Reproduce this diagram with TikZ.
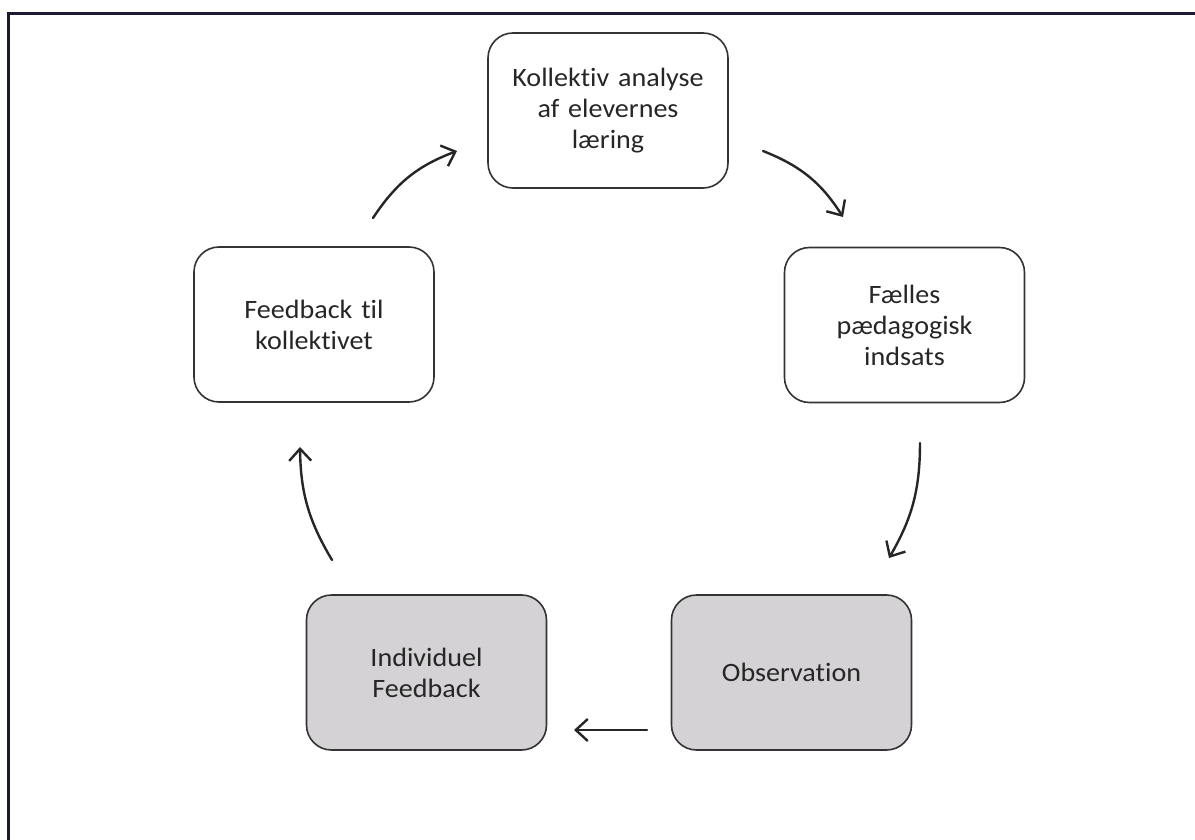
\documentclass[tikz,border=0pt]{standalone}
\usepackage{fontspec}
\setmainfont{Carlito}[FakeStretch=1.06, RawFeature={-liga;-clig;-dlig}]
\usetikzlibrary{arrows.meta}
\definecolor{framecol}{HTML}{1C1933}
\definecolor{boxline}{HTML}{333333}
\definecolor{boxgray}{HTML}{D4D2D4}
\definecolor{txt}{HTML}{262626}
\tikzset{
  stage/.style={draw=boxline, line width=1.6pt, rounded corners=25pt,
    minimum width=240pt, minimum height=155pt, inner sep=0pt,
    align=center, text width=210pt, text=txt,
    font=\fontsize{26.5}{31}\selectfont},
  stagegray/.style={stage, fill=boxgray},
  flow/.style={draw=black!85, line width=2.4pt, line cap=round,
    -{Straight Barb[length=12pt, width=22pt, line width=2.4pt]}},
}
\begin{document}
\begin{tikzpicture}[x=1pt, y=-1pt]
\useasboundingbox (0,0) rectangle (1195,840);
% page frame (top and left rules)
\draw[framecol, line width=2.4pt] (8.5,840) -- (8.5,13.5) -- (1195,13.5);

% stages of the cycle
\node[stage] (analyse) at (608,110.5) {Kollektiv analyse\\af elevernes\\læring};
\node[stage] (indsats) at (904.5,325) {Fælles\\pædagogisk\\indsats};
\node[stagegray] (obs) at (791.5,672.5) {Observation};
\node[stagegray] (indiv) at (426.5,672.5) {Individuel\\Feedback};
\node[stage] (kollektiv) at (314,324.5) {Feedback til\\kollektivet};

% connector end points
\coordinate (a1) at (373,218);  \coordinate (a2) at (457,151);
\coordinate (b1) at (763,151);  \coordinate (b2) at (843,217);
\coordinate (c1) at (920,443);  \coordinate (c2) at (889,558);
\coordinate (d1) at (647,730);  \coordinate (d2) at (574,730);
\coordinate (e1) at (332,560);  \coordinate (e2) at (300,447);

% arrows of the cycle
\draw[flow] (a1) to[bend left=18] (a2);
\draw[flow] (b1) to[bend left=18] (b2);
\draw[flow] (c1) to[bend left=15] (c2);
\draw[flow] (d1) -- (d2);
\draw[flow] (e1) to[bend left=15] (e2);
\end{tikzpicture}
\end{document}
